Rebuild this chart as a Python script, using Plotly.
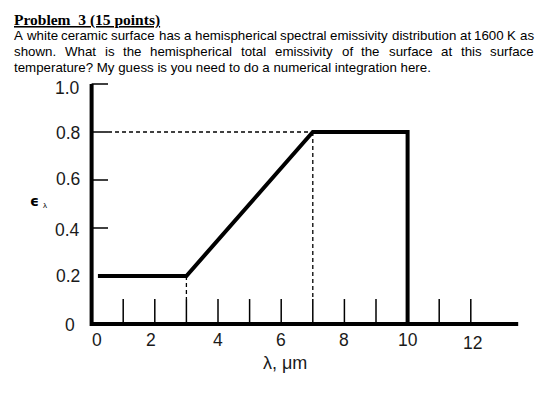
import plotly.graph_objects as go

# ---------------- data ----------------
lam = [0.2, 3, 7, 10, 10]           # wavelength, um
eps = [0.2, 0.2, 0.8, 0.8, 0.0]     # spectral emissivity
x_minor_ticks = [1, 2, 3, 4, 5, 6, 7, 8, 9, 11, 12]
x_label_vals = [0, 2, 4, 6, 8, 10, 12]
x_label_text = ["0", "2", "4", "6", "8", "10", "12"]
y_tick_vals = [0.4, 0.6, 0.8, 1.0]
y_label_vals = [0, 0.2, 0.4, 0.6, 0.8, 1.0]
y_label_text = ["0", "0.2", "0.4", "0.6", "0.8", "1.0"]
guide_x = [3, 7]
guide_y = [0.2, 0.8]
x_axis_end = 13.5
y_axis_top = 1.0

title_text = "Problem\u00a0 3 (15 points)"
body_lines = [
    "A white ceramic surface has a hemispherical spectral emissivity distribution at 1600 K as",
    "shown. What is the hemispherical total emissivity of the surface at this surface",
    "temperature? My guess is you need to do a numerical integration here.",
]

# ---------------- layout geometry ----------------
W, H = 560, 406
ML, MT = 60, 60
PW, PH = 474, 324
MR, MB = W - ML - PW, H - MT - PH
XR = [-1, 14]
YR = [-0.25, 1.1]


def px_x(px):
    return (px - ML) / PW


def px_y(py):
    return 1 - (py - MT) / PH


# Arial / Liberation Sans advance widths (per 1000 em)
AW = {' ': 278, '.': 278, ',': 278, '?': 556, 'A': 667, 'K': 667, 'M': 833, 'W': 944,
      'a': 556, 'b': 556, 'c': 500, 'd': 556, 'e': 556, 'f': 278, 'g': 556, 'h': 556,
      'i': 222, 'j': 222, 'k': 500, 'l': 222, 'm': 833, 'n': 556, 'o': 556, 'p': 556,
      'q': 556, 'r': 333, 's': 500, 't': 278, 'u': 556, 'v': 500, 'w': 722, 'x': 500,
      'y': 500, 'z': 500}


def tw(s, size):
    return sum(AW.get(c, 556) for c in s) / 1000.0 * size


BODY_SIZE = 13.3
BODY_FONT = dict(family="Liberation Sans, Arial, sans-serif", size=BODY_SIZE, color="#000000")
TICK_FONT = dict(family="Liberation Sans, Arial, sans-serif", size=17.5, color="#1a1a1a")

fig = go.Figure()

# main emissivity curve
fig.add_trace(go.Scatter(x=lam, y=eps, mode="lines",
                         line=dict(color="#000000", width=4), hoverinfo="skip"))

# axis lines (L-shaped)
fig.add_trace(go.Scatter(x=[0, 0, x_axis_end], y=[y_axis_top, 0, 0], mode="lines",
                         line=dict(color="#000000", width=4), hoverinfo="skip"))

# x minor ticks (upward)
tick_h = 0.104
tx, ty = [], []
for v in x_minor_ticks:
    tx += [v, v, None]
    ty += [0, tick_h, None]
fig.add_trace(go.Scatter(x=tx, y=ty, mode="lines",
                         line=dict(color="#000000", width=1.5), hoverinfo="skip"))

# y ticks (rightward)
tick_w = 0.52
yx, yy = [], []
for v in y_tick_vals:
    yx += [0, tick_w, None]
    yy += [v, v, None]
fig.add_trace(go.Scatter(x=yx, y=yy, mode="lines",
                         line=dict(color="#000000", width=1.5), hoverinfo="skip"))

# dashed guides
gx, gy = [tick_w, guide_x[1], None], [guide_y[1], guide_y[1], None]
for xv, yv in zip(guide_x, guide_y):
    gx += [xv, xv, None]
    gy += [yv, tick_h, None]
fig.add_trace(go.Scatter(x=gx, y=gy, mode="lines",
                         line=dict(color="#000000", width=1.3, dash="4px,3px"), hoverinfo="skip"))

ann = []
# x tick labels
x_shift = {"0": 5, "2": -4, "12": 2}
y_shift = {"12": -19}
for v, t in zip(x_label_vals, x_label_text):
    ann.append(dict(x=v, y=0, xref="x", yref="y", text=t, showarrow=False,
                    xanchor="center", yanchor="middle", xshift=x_shift.get(t, 0),
                    yshift=y_shift.get(t, -16), font=TICK_FONT, borderpad=0))
# y tick labels
ylab_yshift = {"1.0": -4, "0.8": -1, "0.6": 1, "0.4": -2, "0.2": 0, "0": -1}
for v, t in zip(y_label_vals, y_label_text):
    ann.append(dict(x=0, y=v, xref="x", yref="y", text=t, showarrow=False,
                    xanchor="right", yanchor="middle", xshift=-11 if t != "0" else -16,
                    yshift=ylab_yshift.get(t, 0),
                    font=TICK_FONT, borderpad=0))

# axis titles
ann.append(dict(x=px_x(285), y=px_y(363), xref="paper", yref="paper", text="λ, μm",
                showarrow=False, xanchor="center", yanchor="middle", borderpad=0,
                font=dict(family="Liberation Sans, Arial, sans-serif", size=18, color="#1a1a1a")))
ann.append(dict(x=px_x(34), y=px_y(201), xref="paper", yref="paper", text="<b>ϵ</b>",
                showarrow=False, xanchor="center", yanchor="middle", borderpad=0,
                font=dict(family="DejaVu Sans, sans-serif", size=14, color="#000000")))
ann.append(dict(x=px_x(45), y=px_y(205), xref="paper", yref="paper", text="λ",
                showarrow=False, xanchor="center", yanchor="middle", borderpad=0,
                font=dict(family="Liberation Sans, Arial, sans-serif", size=8, color="#000000")))

# title (Times bold, underlined)
ann.append(dict(x=px_x(13), y=px_y(20), xref="paper", yref="paper", text="<b>" + title_text + "</b>",
                showarrow=False, xanchor="left", yanchor="middle", borderpad=0,
                font=dict(family="Liberation Serif, Times New Roman, serif", size=15.5,
                          color="#000000", lineposition="under")))

# body text: first two lines justified, last line left
left, right = 13, 533
line_y = [35.5, 51.5, 67]
for i, (line, yc) in enumerate(zip(body_lines, line_y)):
    if i < len(body_lines) - 1:
        words = line.split(" ")
        wsum = sum(tw(w, BODY_SIZE) for w in words)
        gap = (right - left - wsum) / (len(words) - 1)
        xpos = left
        for w in words:
            ann.append(dict(x=px_x(xpos), y=px_y(yc), xref="paper", yref="paper", text=w,
                            showarrow=False, xanchor="left", yanchor="middle", borderpad=0,
                            font=BODY_FONT))
            xpos += tw(w, BODY_SIZE) + gap
    else:
        ann.append(dict(x=px_x(left), y=px_y(yc), xref="paper", yref="paper", text=line,
                        showarrow=False, xanchor="left", yanchor="middle", borderpad=0,
                        font=BODY_FONT))

fig.update_layout(
    width=W, height=H,
    margin=dict(l=ML, r=MR, t=MT, b=MB, pad=0),
    paper_bgcolor="#ffffff", plot_bgcolor="#ffffff",
    showlegend=False,
    xaxis=dict(range=XR, visible=False, fixedrange=True),
    yaxis=dict(range=YR, visible=False, fixedrange=True),
    annotations=ann,
)

fig.write_html("out.html", config={"displayModeBar": False},
               post_script="document.body.style.margin='0';document.body.style.overflow='hidden';")
